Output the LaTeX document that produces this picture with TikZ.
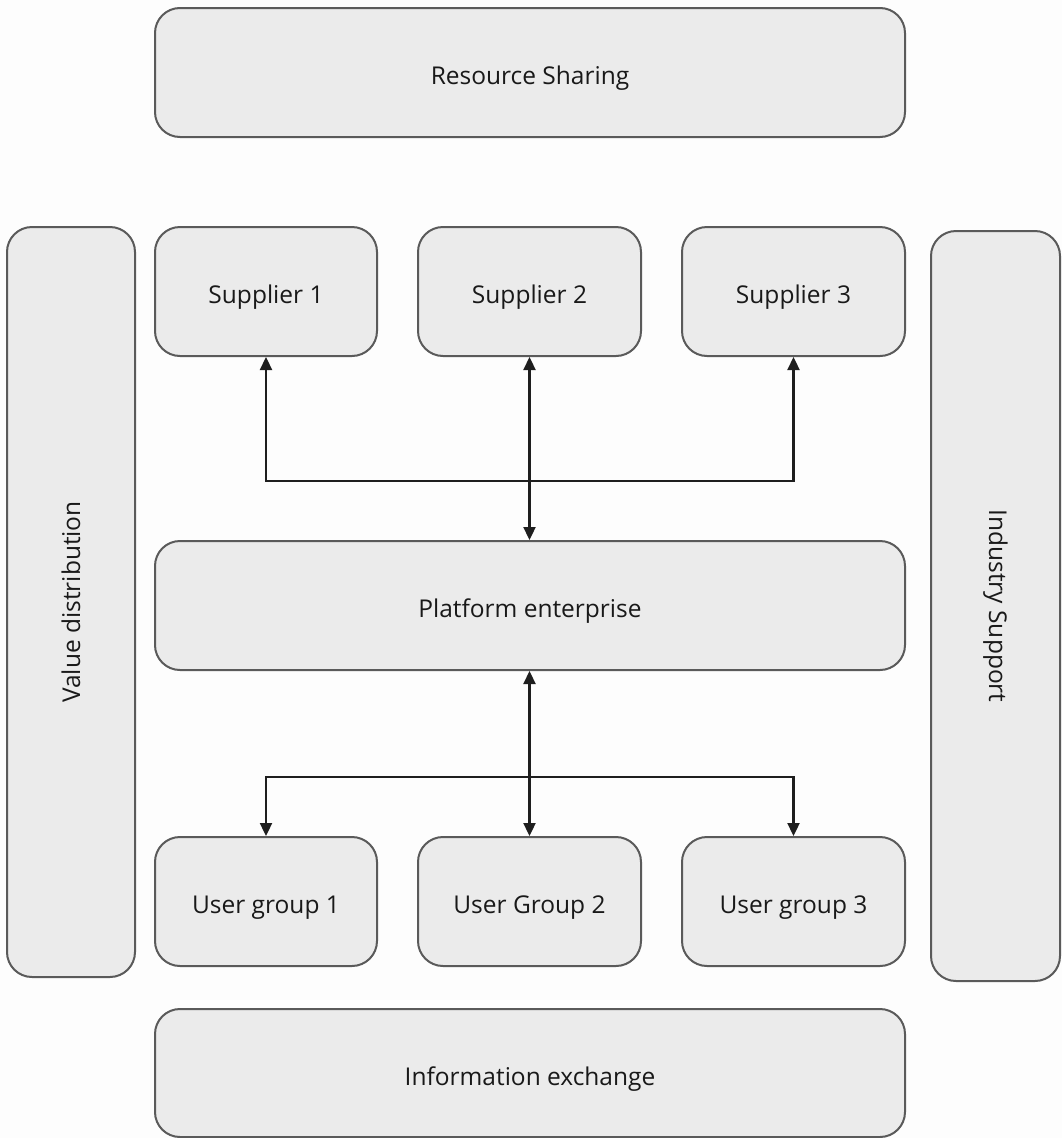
\documentclass[tikz,border=0pt]{standalone}
\usepackage{fontspec}
\setmainfont{Open Sans}
\usetikzlibrary{arrows.meta}
\definecolor{boxfill}{HTML}{EBEBEB}
\definecolor{boxline}{HTML}{5A5A5A}
\definecolor{arrowcol}{HTML}{1E1E1E}
\definecolor{bg}{HTML}{FDFDFD}
\newcommand{\lowlabel}[1]{\raisebox{-6pt}[\height][\depth]{#1}}
\begin{document}
\begin{tikzpicture}[x=1pt,y=-1pt,
  box/.style={draw=boxline, fill=boxfill, line width=2pt, rounded corners=25pt, inner sep=0pt, font=\fontsize{24.5}{28}\selectfont, text=black!90},
  conn/.style={draw=arrowcol, line width=2.3pt},
  tip/.style={-{Triangle[width=12pt,length=13pt]}},
  bitip/.style={{Triangle[width=12pt,length=13pt]}-{Triangle[width=12pt,length=13pt]}}]
\fill[bg] (0,0) rectangle (1062,1138);
\useasboundingbox (0,0) rectangle (1062,1138);
\node[box, minimum width=750pt, minimum height=129pt] (rs) at (530,72.5) {\lowlabel{Resource Sharing}};
\node[box, minimum width=128pt, minimum height=750pt] (vd) at (71,602) {\rotatebox{90}{Value distribution}};
\node[box, minimum width=129pt, minimum height=750pt] (is) at (995.5,606) {\rotatebox{-90}{Industry Support}};
\node[box, minimum width=222pt, minimum height=129pt] (s1) at (266,291.5) {\lowlabel{Supplier 1}};
\node[box, minimum width=223pt, minimum height=129pt] (s2) at (529.5,291.5) {\lowlabel{Supplier 2}};
\node[box, minimum width=223pt, minimum height=129pt] (s3) at (793.5,291.5) {\lowlabel{Supplier 3}};
\node[box, minimum width=750pt, minimum height=129pt] (pe) at (530,605.5) {\lowlabel{Platform enterprise}};
\node[box, minimum width=222pt, minimum height=129pt] (u1) at (266,901.5) {\lowlabel{User group 1}};
\node[box, minimum width=223pt, minimum height=129pt] (u2) at (529.5,901.5) {\lowlabel{User Group 2}};
\node[box, minimum width=223pt, minimum height=129pt] (u3) at (793.5,901.5) {\lowlabel{User group 3}};
\node[box, minimum width=750pt, minimum height=128pt] (ie) at (530,1073) {\lowlabel{Information exchange}};
\coordinate (tj) at (529.5,481);
\coordinate (bj) at (529.5,777);
% top connectors
\draw[conn, tip] (tj) -| (s1.south);
\draw[conn, tip] (tj) -| (s3.south);
\draw[conn, bitip] (s2.south) -- (pe.north -| s2.south);
% bottom connectors
\draw[conn, tip] (bj) -| (u1.north);
\draw[conn, tip] (bj) -| (u3.north);
\draw[conn, bitip] (pe.south -| u2.north) -- (u2.north);
\end{tikzpicture}
\end{document}
